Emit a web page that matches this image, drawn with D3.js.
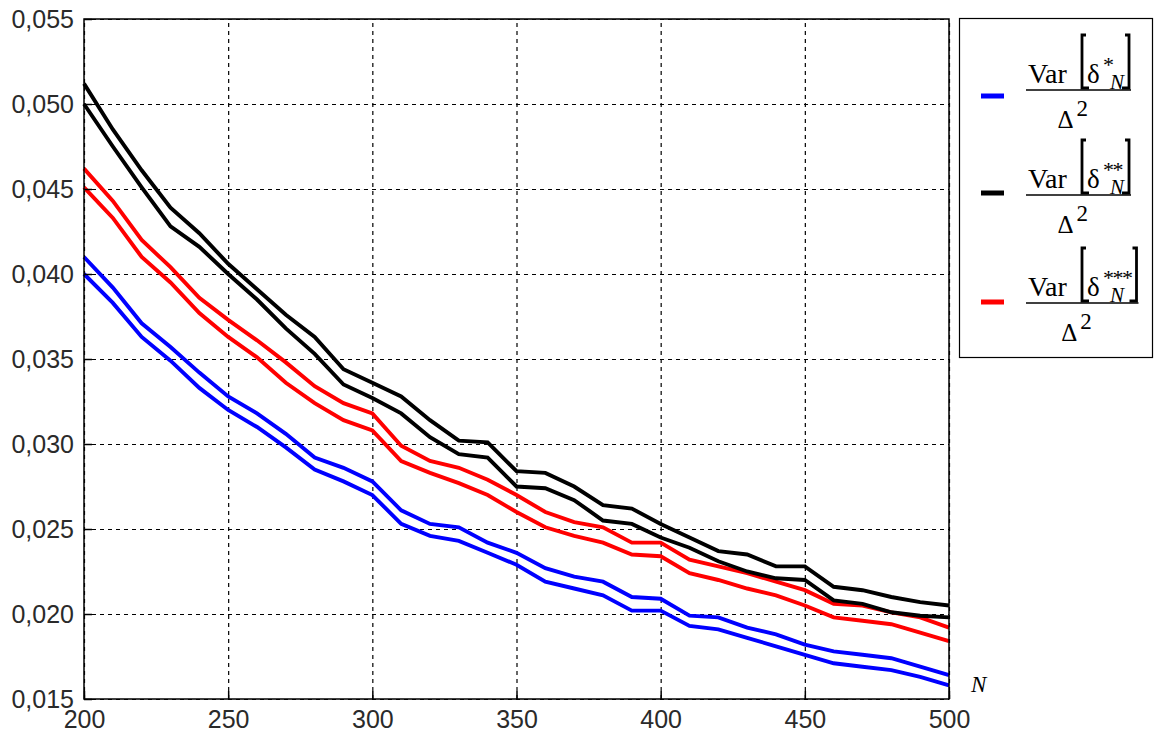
<!DOCTYPE html>
<html>
<head>
<meta charset="utf-8">
<script src="https://cdn.jsdelivr.net/npm/d3@7"></script>
<style>
  body { margin: 0; background: #fff; }
  svg { display: block; }
</style>
</head>
<body>
<script>
// N values (step 10)
var nValues = [200,210,220,230,240,250,260,270,280,290,300,310,320,330,340,350,
               360,370,380,390,400,410,420,430,440,450,460,470,480,490,500];

var blueUpper  = [.0410,.0392,.0371,.0357,.0342,.0328,.0318,.0306,.0292,.0286,.0278,.0261,.0253,.0251,.0242,.0236,
                  .0227,.0222,.0219,.0210,.0209,.0199,.0198,.0192,.0188,.0182,.0178,.0176,.0174,.0169,.0164];
var blueLower  = [.0400,.0383,.0363,.0349,.0333,.0320,.0310,.0298,.0285,.0278,.0270,.0253,.0246,.0243,.0236,.0229,
                  .0219,.0215,.0211,.0202,.0202,.0193,.0191,.0186,.0181,.0176,.0171,.0169,.0167,.0163,.0158];
var blackUpper = [.0512,.0485,.0461,.0439,.0424,.0406,.0391,.0376,.0363,.0344,.0336,.0328,.0314,.0302,.0301,.0284,
                  .0283,.0275,.0264,.0262,.0253,.0245,.0237,.0235,.0228,.0228,.0216,.0214,.0210,.0207,.0205];
var blackLower = [.0500,.0475,.0451,.0428,.0416,.0400,.0385,.0368,.0353,.0335,.0327,.0318,.0304,.0294,.0292,.0275,
                  .0274,.0267,.0255,.0253,.0245,.0239,.0231,.0225,.0221,.0220,.0208,.0206,.0201,.0199,.0198];
var redUpper   = [.0462,.0443,.0420,.0404,.0386,.0373,.0361,.0348,.0334,.0324,.0318,.0299,.0290,.0286,.0279,.0270,
                  .0260,.0254,.0251,.0242,.0242,.0232,.0228,.0224,.0219,.0214,.0206,.0205,.0201,.0198,.0192];
var redLower   = [.0451,.0433,.0410,.0395,.0377,.0363,.0351,.0336,.0324,.0314,.0308,.0290,.0283,.0277,.0270,.0260,
                  .0251,.0246,.0242,.0235,.0234,.0224,.0220,.0215,.0211,.0205,.0198,.0196,.0194,.0189,.0184];

var xTicks = [200,250,300,350,400,450,500];
var yTicks = [0.015,0.020,0.025,0.030,0.035,0.040,0.045,0.050,0.055];

var legendColors = ["#0000ff","#000000","#ff0000"];
var legendStars  = ["*","**","***"];

var width = 1156, height = 735;
var pL = 84, pR = 949, pT = 19, pB = 699;

var svg = d3.select("body").append("svg")
            .attr("width",width)
            .attr("height",height);

var x = d3.scaleLinear().domain([200,500]).range([pL,pR]);
var y = d3.scaleLinear().domain([0.015,0.055]).range([pB,pT]);

// grid
var gx = svg.append("g")
            .attr("transform","translate(0,"+pB+")")
            .call(d3.axisBottom(x).tickValues(xTicks).tickSize(-(pB-pT)).tickFormat(""));
gx.select(".domain").remove();
gx.selectAll("line").attr("stroke","#000").attr("stroke-dasharray","4,4").attr("stroke-width",1.2);

var gy = svg.append("g")
            .attr("transform","translate("+pL+",0)")
            .call(d3.axisLeft(y).tickValues(yTicks).tickSize(-(pR-pL)).tickFormat(""));
gy.select(".domain").remove();
gy.selectAll("line").attr("stroke","#000").attr("stroke-dasharray","4,4").attr("stroke-width",1.2);

// series
var line = d3.line()
             .x(function(d,i){ return x(nValues[i]); })
             .y(function(d){ return y(d); });

var series = [
  {vals: blueUpper, color: "#0000ff"},
  {vals: blueLower, color: "#0000ff"},
  {vals: redUpper, color: "#ff0000"},
  {vals: redLower, color: "#ff0000"},
  {vals: blackUpper, color: "#000000"},
  {vals: blackLower, color: "#000000"}
];

svg.selectAll("path.series")
   .data(series)
   .enter()
   .append("path")
   .attr("class","series")
   .attr("d",function(d){ return line(d.vals); })
   .attr("fill","none")
   .attr("stroke",function(d){ return d.color; })
   .attr("stroke-width",3.9)
   .attr("stroke-linejoin","miter");

// axes labels + inward ticks
var fmt = function(d){ return d3.format(".3f")(d).replace(".",","); };

var ay = svg.append("g")
            .attr("transform","translate("+pL+",0)")
            .call(d3.axisLeft(y).tickValues(yTicks).tickSizeInner(-8).tickSizeOuter(0).tickPadding(10).tickFormat(fmt));
ay.select(".domain").remove();
ay.selectAll("line").attr("stroke","#000").attr("stroke-width",1.5);
ay.selectAll("text").attr("font-family","Liberation Sans, Arial, sans-serif").attr("font-size",25).attr("fill","#2a2a2a");

var ax = svg.append("g")
            .attr("transform","translate(0,"+pB+")")
            .call(d3.axisBottom(x).tickValues(xTicks).tickSizeInner(-8).tickSizeOuter(0).tickPadding(11));
ax.select(".domain").remove();
ax.selectAll("line").attr("stroke","#000").attr("stroke-width",1.5);
ax.selectAll("text").attr("font-family","Liberation Sans, Arial, sans-serif").attr("font-size",25).attr("fill","#2a2a2a");

// frame
svg.append("rect")
   .attr("x",pL).attr("y",pT)
   .attr("width",pR-pL).attr("height",pB-pT)
   .attr("fill","none").attr("stroke","#000").attr("stroke-width",1.5);

// axis name
svg.append("text")
   .attr("x",971).attr("y",692)
   .attr("font-family","Liberation Serif, Times New Roman, serif")
   .attr("font-style","italic")
   .attr("font-size",23)
   .text("N");

// legend
var serif = "Liberation Serif, Times New Roman, serif";
svg.append("rect")
   .attr("x",959.5).attr("y",18.5)
   .attr("width",193).attr("height",339)
   .attr("fill","none").attr("stroke","#000").attr("stroke-width",1.2);

var lineY = [90,195,303];
var swatchY = [96,193,302];

legendStars.forEach(function(stars,i){
  var ly = lineY[i];
  var g = svg.append("g");

  g.append("rect")
   .attr("x",981).attr("y",swatchY[i]-2.5)
   .attr("width",23).attr("height",5)
   .attr("fill",legendColors[i]);

  g.append("text")
   .attr("x",1028).attr("y",ly-7)
   .attr("font-family",serif).attr("font-size",28)
   .text("Var");

  var bx = 1082;
  g.append("path")
   .attr("d","M"+(bx+4)+","+(ly-55)+"L"+bx+","+(ly-55)+"L"+bx+","+(ly-2)+"L"+(bx+7)+","+(ly-2))
   .attr("fill","none").attr("stroke","#000").attr("stroke-width",2.8);

  g.append("text")
   .attr("x",1087).attr("y",ly-7)
   .attr("font-family",serif).attr("font-size",27)
   .text("δ");

  var st = g.append("text")
            .attr("x",1103).attr("y",ly-18)
            .attr("font-family",serif).attr("font-size",22)
            .attr("letter-spacing",-1.5)
            .text(stars);
  var nt = g.append("text")
            .attr("x",1110).attr("y",ly-1)
            .attr("font-family",serif).attr("font-style","italic").attr("font-size",21)
            .text("N");

  var endX = Math.max(1103 + st.node().getComputedTextLength(), 1110 + nt.node().getComputedTextLength()) + 5;
  g.append("path")
   .attr("d","M"+(endX-4)+","+(ly-55)+"L"+endX+","+(ly-55)+"L"+endX+","+(ly-2)+"L"+(endX-7)+","+(ly-2))
   .attr("fill","none").attr("stroke","#000").attr("stroke-width",2.8);

  var lx2 = endX + 2;
  g.append("line")
   .attr("x1",1026).attr("x2",lx2)
   .attr("y1",ly).attr("y2",ly)
   .attr("stroke","#000").attr("stroke-width",1.6);

  var cx = (1026 + lx2)/2 - 8;
  g.append("text")
   .attr("x",cx-5).attr("y",ly+38)
   .attr("text-anchor","middle")
   .attr("font-family",serif).attr("font-size",25)
   .text("Δ");
  g.append("text")
   .attr("x",cx+6).attr("y",ly+26)
   .attr("font-family",serif).attr("font-size",23)
   .text("2");
});
</script>
</body>
</html>
